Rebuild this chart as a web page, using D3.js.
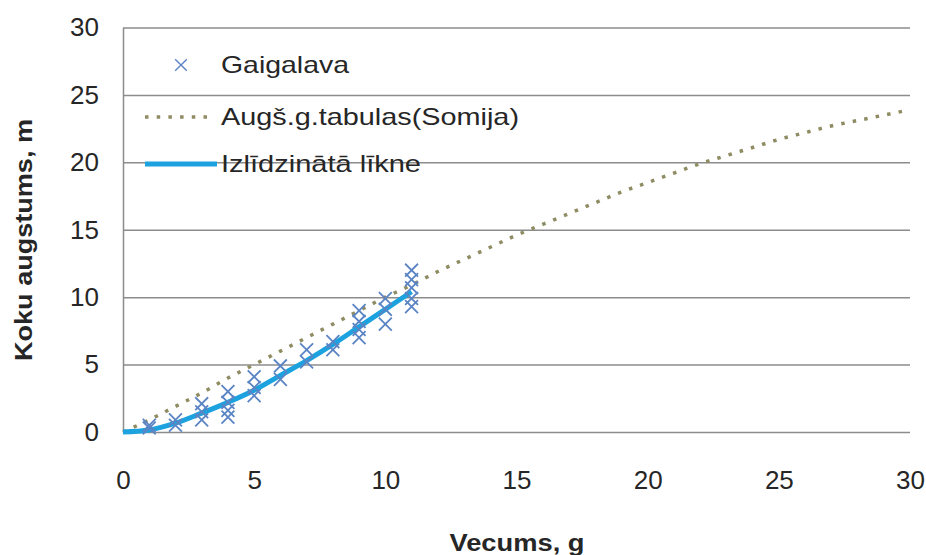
<!DOCTYPE html>
<html>
<head>
<meta charset="utf-8">
<script src="https://cdn.jsdelivr.net/npm/d3@7"></script>
<style>
  body { margin: 0; background: #fff; }
  text { font-family: "Liberation Sans", Arial, sans-serif; fill: #262626; }
</style>
</head>
<body>
<div id="chart_div"></div>
<script>
/*
 * Chart data
 */
var gvXTicks = [0, 5, 10, 15, 20, 25, 30];
var gvYTicks = [0, 5, 10, 15, 20, 25, 30];

// Gaigalava measurements: age, height
var gvMeasAge    = [1, 1, 2, 2, 3, 3, 3, 4, 4, 4, 4, 5, 5, 5, 6, 6, 7, 7, 8, 8,
                    9, 9, 9, 9, 10, 10, 10, 11, 11, 11, 11, 11];
var gvMeasHeight = [0.3, 0.5, 0.5, 0.9, 0.9, 1.5, 2.1, 1.1, 1.6, 2.2, 3.0, 2.7, 3.3, 4.1, 3.9, 4.9, 5.2, 6.1, 6.1, 6.7,
                    7.0, 7.6, 8.2, 9.0, 8.0, 9.1, 9.9, 9.3, 9.9, 10.7, 11.3, 12.0];

// Augs. g. tabulas (Somija)
var gvTableAge    = [0, 1, 2, 3, 4, 5, 6, 7, 8, 9, 10, 11, 12, 13, 14, 15, 16, 17, 18, 19, 20,
                     21, 22, 23, 24, 25, 26, 27, 28, 29, 30];
var gvTableHeight = [0, 0.9, 1.9, 2.9, 4.0, 5.0, 6.0, 7.0, 8.0, 9.0, 10.0, 10.9, 11.9, 12.8, 13.7, 14.6, 15.4, 16.2, 17.0, 17.8, 18.5,
                     19.2, 19.9, 20.5, 21.1, 21.7, 22.2, 22.7, 23.1, 23.5, 23.9];

// Izlidzinata likne
var gvFitAge    = [0, 1, 2, 3, 4, 5, 6, 7, 8, 9, 10, 11];
var gvFitHeight = [0, 0.15, 0.65, 1.4, 2.2, 3.1, 4.2, 5.3, 6.5, 7.8, 9.1, 10.4];

var gvLegend = ['Gaigalava', 'Augš.g.tabulas(Somija)', 'Izlīdzinātā līkne'];

var cMarker = '#5b84c4';
var cTable = '#8f8c63';
var cFit = '#1ca3df';
var cGrid = '#8c8c8c';

/*
 * Build chart
 */
function buildChart() {

  var svg = d3.select('#chart_div').append('svg')
    .attr('width', 926)
    .attr('height', 555);

  var x = d3.scaleLinear().domain([0, 30]).range([123, 910]);
  var y = d3.scaleLinear().domain([0, 30]).range([432, 27.5]);

  // gridlines
  svg.append('g')
    .attr('transform', 'translate(123,0)')
    .call(d3.axisLeft(y).tickValues(gvYTicks).tickSize(-(910 - 123)).tickFormat(''))
    .call(function(g) {
      g.select('.domain').remove();
      g.selectAll('line').attr('stroke', cGrid).attr('stroke-width', 1.5);
    });

  // y axis
  svg.append('g')
    .attr('transform', 'translate(123,0)')
    .call(d3.axisLeft(y).tickValues(gvYTicks).tickSize(0).tickPadding(24))
    .call(function(g) {
      g.select('.domain').attr('stroke', cGrid).attr('stroke-width', 1.5);
      g.selectAll('text').attr('font-size', 26).attr('fill', '#262626')
        .attr('font-family', '"Liberation Sans", Arial, sans-serif');
    });

  // x axis labels
  svg.append('g')
    .attr('transform', 'translate(0,432)')
    .call(d3.axisBottom(x).tickValues(gvXTicks).tickSize(0).tickPadding(39))
    .call(function(g) {
      g.select('.domain').remove();
      g.selectAll('text').attr('font-size', 26).attr('fill', '#262626')
        .attr('font-family', '"Liberation Sans", Arial, sans-serif');
    });

  // axis titles
  svg.append('text')
    .attr('transform', 'translate(32,240) rotate(-90)')
    .attr('text-anchor', 'middle')
    .attr('font-size', 23)
    .attr('font-weight', 'bold')
    .attr('textLength', 242)
    .attr('lengthAdjust', 'spacingAndGlyphs')
    .text('Koku augstums, m');

  svg.append('text')
    .attr('x', 517)
    .attr('y', 551)
    .attr('text-anchor', 'middle')
    .attr('font-size', 23)
    .attr('font-weight', 'bold')
    .attr('textLength', 135)
    .attr('lengthAdjust', 'spacingAndGlyphs')
    .text('Vecums, g');

  // Somija table curve (dotted)
  var tableLine = d3.line()
    .x(function(d, i) { return x(gvTableAge[i]); })
    .y(function(d) { return y(d); })
    .curve(d3.curveMonotoneX);

  svg.append('path')
    .datum(gvTableHeight)
    .attr('d', tableLine)
    .attr('fill', 'none')
    .attr('stroke', cTable)
    .attr('stroke-width', 3.5)
    .attr('stroke-dasharray', '3.5,8.2');

  // fitted curve
  var fitLine = d3.line()
    .x(function(d, i) { return x(gvFitAge[i]); })
    .y(function(d) { return y(d); })
    .curve(d3.curveMonotoneX);

  svg.append('path')
    .datum(gvFitHeight)
    .attr('d', fitLine)
    .attr('fill', 'none')
    .attr('stroke', cFit)
    .attr('stroke-width', 5);

  // measurements
  var sym = d3.symbol().type(d3.symbolX).size(110);
  svg.selectAll('.meas')
    .data(gvMeasHeight)
    .enter()
    .append('path')
    .attr('class', 'meas')
    .attr('d', sym)
    .attr('transform', function(d, i) { return 'translate(' + x(gvMeasAge[i]) + ',' + y(d) + ')'; })
    .attr('fill', 'none')
    .attr('stroke', cMarker)
    .attr('stroke-width', 1.8);

  // legend
  var lg = svg.append('g');
  var lgY = [65, 117, 164];
  var lgLen = [128, 298, 200];

  lg.append('path')
    .attr('d', d3.symbol().type(d3.symbolX).size(90))
    .attr('transform', 'translate(181,' + lgY[0] + ')')
    .attr('fill', 'none')
    .attr('stroke', cMarker)
    .attr('stroke-width', 1.4);

  lg.append('line')
    .attr('x1', 145).attr('x2', 212)
    .attr('y1', lgY[1]).attr('y2', lgY[1])
    .attr('stroke', cTable)
    .attr('stroke-width', 3.5)
    .attr('stroke-dasharray', '3.5,8.2');

  lg.append('line')
    .attr('x1', 145).attr('x2', 217)
    .attr('y1', lgY[2]).attr('y2', lgY[2])
    .attr('stroke', cFit)
    .attr('stroke-width', 5);

  lg.selectAll('.lgText')
    .data(gvLegend)
    .enter()
    .append('text')
    .attr('class', 'lgText')
    .attr('x', 221)
    .attr('y', function(d, i) { return lgY[i]; })
    .attr('dy', '0.35em')
    .attr('font-size', 24)
    .attr('textLength', function(d, i) { return lgLen[i]; })
    .attr('lengthAdjust', 'spacingAndGlyphs')
    .text(function(d) { return d; });
}

buildChart();
</script>
</body>
</html>
